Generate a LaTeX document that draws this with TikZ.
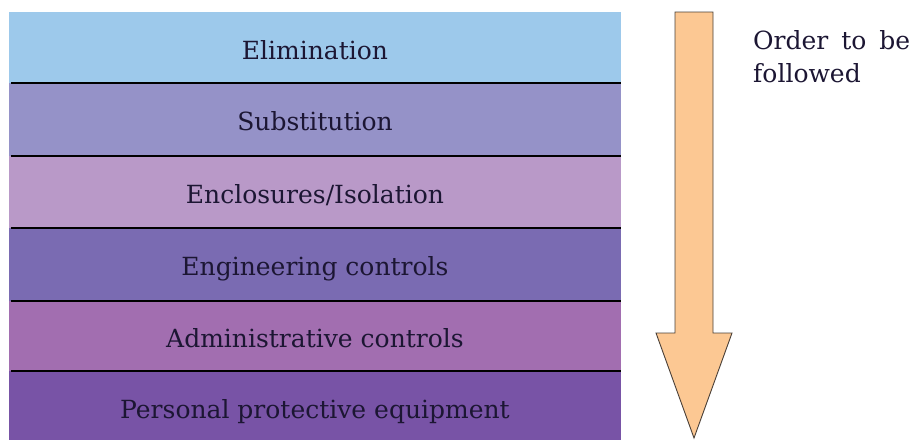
\documentclass[tikz,border=0pt]{standalone}
\usepackage{fontspec}
\setmainfont{DejaVu Serif}
\definecolor{cElim}{HTML}{9DC9EB}
\definecolor{cSubs}{HTML}{9592C8}
\definecolor{cEncl}{HTML}{B999C8}
\definecolor{cEngi}{HTML}{7A6BB2}
\definecolor{cAdmi}{HTML}{A26EB0}
\definecolor{cPers}{HTML}{7853A6}
\definecolor{cText}{HTML}{1C1633}
\definecolor{cArrow}{HTML}{FCC893}
\definecolor{cArrowLine}{HTML}{4A4038}
\tikzset{
  band/.style={rectangle, draw=none, inner sep=0pt, minimum width=612pt,
    text=cText, font=\fontsize{25}{30}\selectfont, text height=23pt, text depth=0pt},
  sepline/.style={line width=2pt, black},
  orderarrow/.style={fill=cArrow, draw=cArrowLine, line width=0.9pt, line join=miter},
  orderlabel/.style={anchor=north west, inner sep=0pt, text=cText, text width=157pt,
    align=justify, font=\fontsize{25}{32.5}\selectfont}
}
\begin{document}
\begin{tikzpicture}[x=1pt,y=-1pt]
\useasboundingbox (0,0) rectangle (915,439);
\node[band, fill=cElim, minimum height=71pt]   (b1) at (315,47.5)  {Elimination};
\node[band, fill=cSubs, minimum height=72.5pt] (b2) at (315,119.25) {Substitution};
\node[band, fill=cEncl, minimum height=72.5pt] (b3) at (315,191.75) {Enclosures/Isolation};
\node[band, fill=cEngi, minimum height=72.5pt] (b4) at (315,264.25) {Engineering controls};
\node[band, fill=cAdmi, minimum height=70.5pt] (b5) at (315,335.75) {Administrative controls};
\node[band, fill=cPers, minimum height=72pt]   (b6) at (315,407)   {Personal protective equipment};
\foreach \n in {1,...,5}{
  \draw[sepline] ([xshift=2pt]b\n.south west) -- (b\n.south east);
}
\draw[orderarrow] (675,12) -- (713,12) -- (713,333) -- (732,333) -- (694,438)
  -- (656,333) -- (675,333) -- cycle;
\node[orderlabel] (lbl) at (753,30.5) {\hyphenpenalty=10000 Order to be \mbox{followed}};
\end{tikzpicture}
\end{document}
